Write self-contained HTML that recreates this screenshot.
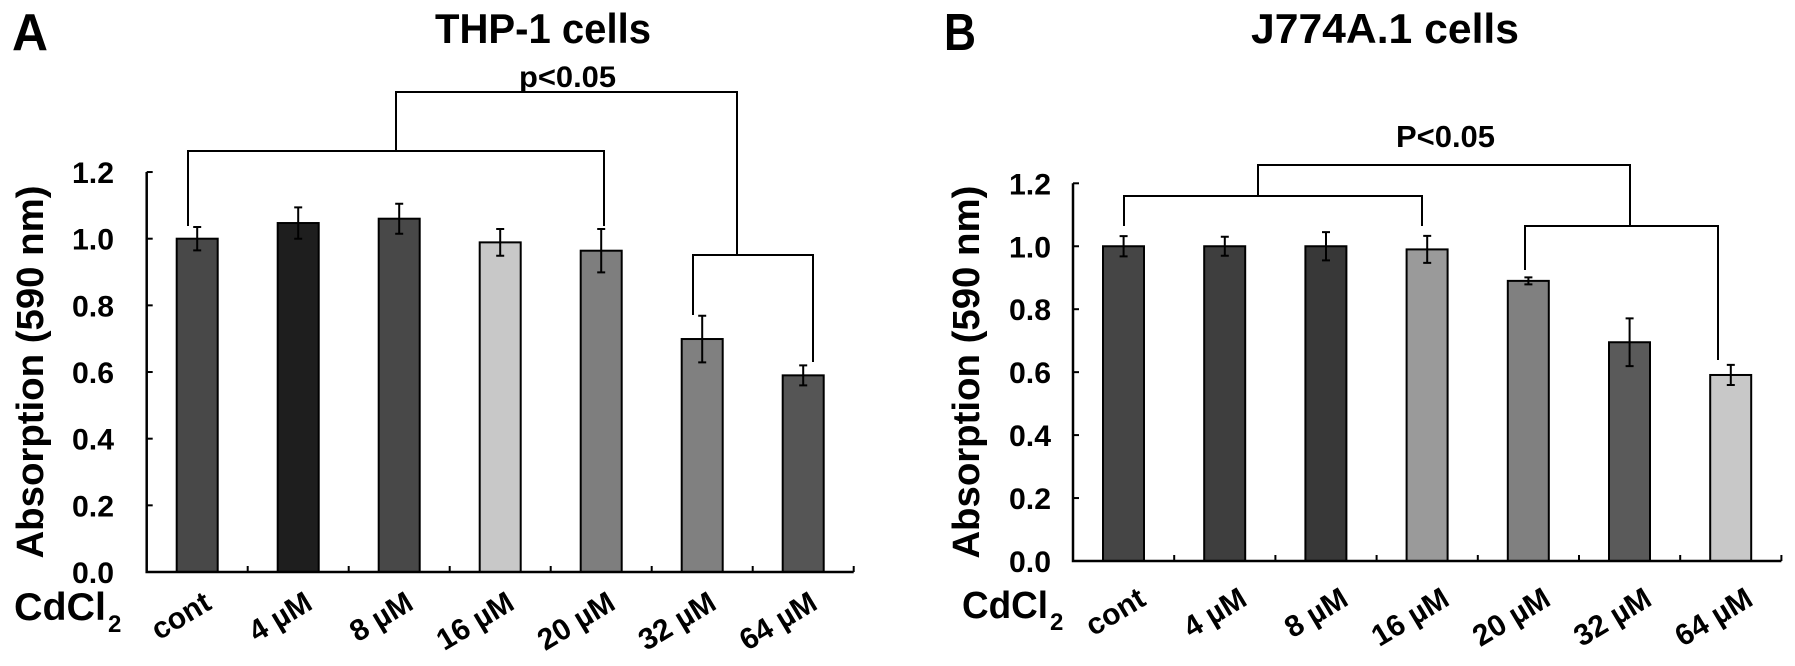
<!DOCTYPE html>
<html><head><meta charset="utf-8"><style>
html,body{margin:0;padding:0;background:#fff;}
svg{display:block;}
text{font-family:"Liberation Sans",Arial,sans-serif;font-weight:bold;fill:#000;}
</style></head><body>
<svg id="fig" width="1795" height="666" viewBox="0 0 1795 666" xmlns="http://www.w3.org/2000/svg">
<g id="annot">
  <text x="12" y="50" font-size="52" textLength="36" lengthAdjust="spacingAndGlyphs">A</text>
  <text x="435" y="43" font-size="42" textLength="216" lengthAdjust="spacingAndGlyphs">THP-1 cells</text>
  <text x="944" y="50" font-size="52" textLength="32" lengthAdjust="spacingAndGlyphs">B</text>
  <text x="1251" y="43" font-size="42" textLength="268" lengthAdjust="spacingAndGlyphs">J774A.1 cells</text>
  <text x="519" y="87" font-size="30" textLength="97" lengthAdjust="spacingAndGlyphs">p&lt;0.05</text>
  <text x="1396" y="147" font-size="31" textLength="99" lengthAdjust="spacingAndGlyphs">P&lt;0.05</text>
  <text x="14" y="620" font-size="39" textLength="92" lengthAdjust="spacingAndGlyphs">CdCl</text>
  <text x="108" y="632" font-size="24">2</text>
  <text x="962" y="618" font-size="38" textLength="86" lengthAdjust="spacingAndGlyphs">CdCl</text>
  <text x="1050" y="630" font-size="24">2</text>
  <g fill="none" stroke="#000" stroke-width="2">
    <polyline points="188,226 188,151 604,151 604,226"/>
    <polyline points="396,151 396,92 737,92 737,255"/>
    <polyline points="693,315 693,255 813,255 813,362"/>
  </g>
  <g fill="none" stroke="#000" stroke-width="2">
    <polyline points="1124,226 1124,196 1422,196 1422,226"/>
    <polyline points="1258,196 1258,165 1630,165 1630,226"/>
    <polyline points="1525,270 1525,226 1718,226 1718,360"/>
  </g>
</g>
</svg>
<script>
const categories = ["cont","4 \u00b5M","8 \u00b5M","16 \u00b5M","20 \u00b5M","32 \u00b5M","64 \u00b5M"];
const tickValues = [0,0.2,0.4,0.6,0.8,1.0,1.2];
const tickLabels = ["0.0","0.2","0.4","0.6","0.8","1.0","1.2"];
const thpValues = [1.0,1.047,1.06,0.989,0.964,0.699,0.59];
const thpErrors = [0.035,0.047,0.045,0.04,0.065,0.07,0.03];
const jValues = [1.0,1.0,1.0,0.99,0.89,0.695,0.591];
const jErrors = [0.032,0.03,0.045,0.043,0.011,0.076,0.032];
const thpColors = ["#484848","#1e1e1e","#484848","#c8c8c8","#7e7e7e","#808080","#555555"];
const jColors = ["#454545","#3e3e3e","#383838","#9a9a9a","#808080","#5a5a5a","#c8c8c8"];

const NS = "http://www.w3.org/2000/svg";
const svg = document.getElementById("fig");
function mk(tag, attrs, parent){
  const e = document.createElementNS(NS, tag);
  for (const k in attrs) e.setAttribute(k, attrs[k]);
  (parent||svg).appendChild(e);
  return e;
}
function panel(cfg){
  const g = mk("g", {});
  
  
  const y = v => cfg.base - v * cfg.pxPer;
  const slot = cfg.slot;
  const xC = i => cfg.axisX + slot * (i + 0.5);
  const xEnd = cfg.axisX + slot * categories.length;
  categories.forEach((c,i)=>{
    const v = cfg.values[i], e = cfg.errors[i];
    const r = mk("rect", {x: cfg.axisX + slot*i + 30, y: y(v), width: 41, height: cfg.base - y(v), fill: cfg.colors[i], stroke:"#000", "stroke-width":2}, g);
    
    
    const cx = xC(i);
    const eb = mk("path", {d: `M${cx},${y(v+e)}V${y(v-e)}M${cx-4},${y(v+e)}H${cx+4}M${cx-4},${y(v-e)}H${cx+4}`, stroke:"#000", "stroke-width":2, fill:"none"}, g);
    
    
    const lx = cx + cfg.lblOff;
    const t = mk("text", {x: lx, y: cfg.lblY, "font-size": 30, "text-anchor":"end", transform:`rotate(-31 ${lx} ${cfg.lblY})`}, g);
    t.textContent = c;
    
    
  });
  const ax = mk("path", {d:`M${cfg.axisX},${y(1.2)}V${cfg.base}H${xEnd}`, stroke:"#000","stroke-width":2.5,fill:"none"}, g);
  
  
  tickValues.forEach((v,i)=>{
    const tk = mk("line",{x1:cfg.axisX,x2:cfg.axisX+6,y1:y(v),y2:y(v),stroke:"#000","stroke-width":2}, g);
    
    
    const t = mk("text",{x:cfg.lblRight,y:y(v)+11,"font-size":30,"text-anchor":"end",textLength:42,lengthAdjust:"spacingAndGlyphs"}, g);
    t.textContent = tickLabels[i];
    
    
  });
  for (let i=1;i<=categories.length;i++){
    const xt = cfg.axisX + slot*i;
    const tk = mk("line",{x1:xt,x2:xt,y1:cfg.base,y2:cfg.base-6,stroke:"#000","stroke-width":2}, g);
    
    
  }
  const yt = mk("text",{x:0,y:0,"font-size":38,"text-anchor":"middle",transform:`translate(${cfg.titleX},${(y(1.2)+cfg.base)/2}) rotate(-90)`, textLength: 373, lengthAdjust:"spacingAndGlyphs"}, g);
  yt.textContent = "Absorption (590 nm)";
  
  
}
panel({name:"panel-a-chart", axisX:146.7, base:572, pxPer:333.3, slot:101, values:thpValues, errors:thpErrors, colors:thpColors, lblRight:114, titleX:43, lblOff:16, lblY:608});
panel({name:"panel-b-chart", axisX:1073, base:561, pxPer:314.75, slot:101.2, values:jValues, errors:jErrors, colors:jColors, lblRight:1051, titleX:979, lblOff:24, lblY:604});
</script>
</body></html>
